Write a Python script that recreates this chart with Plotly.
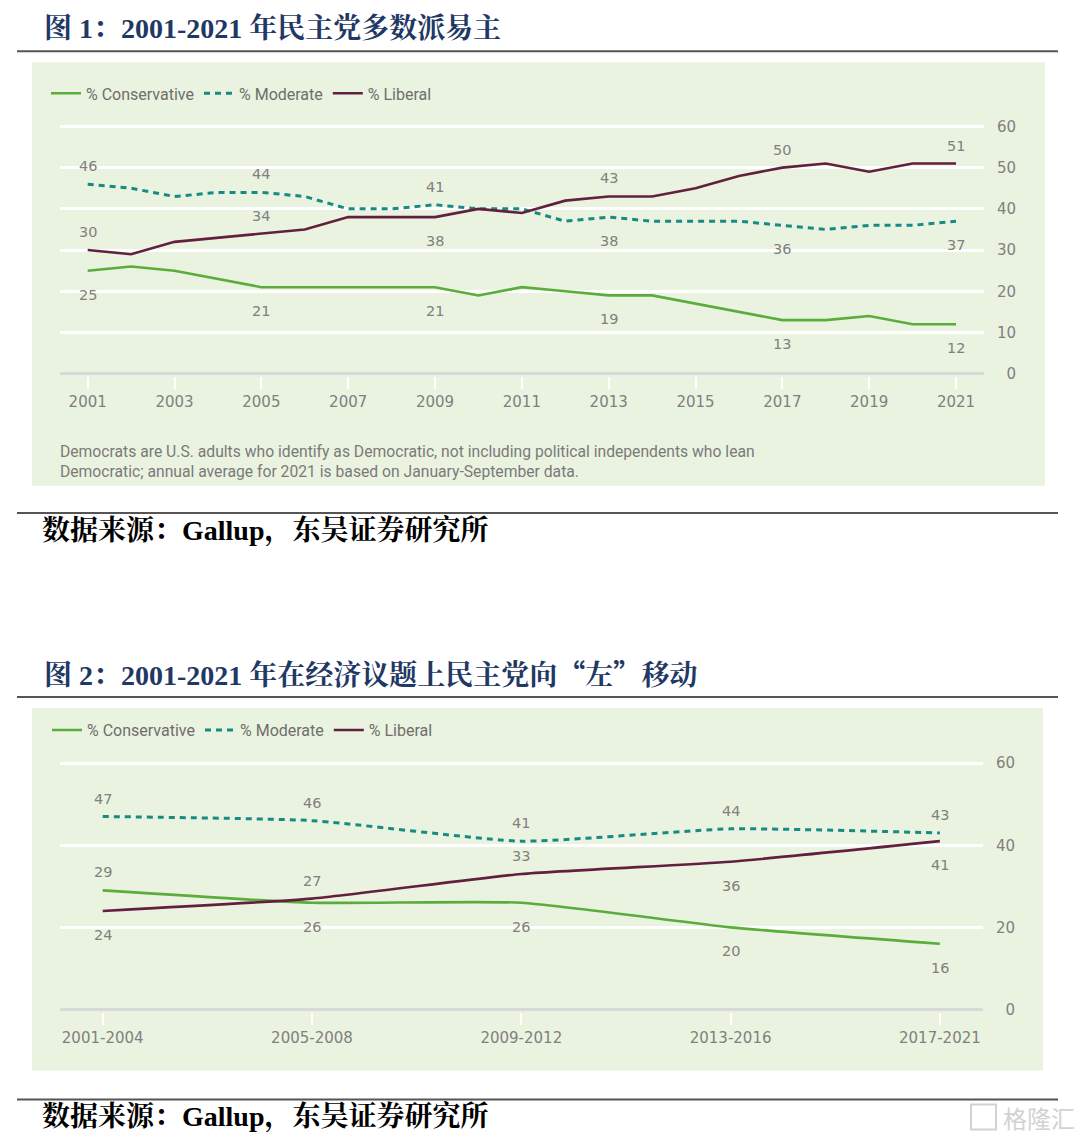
import plotly.graph_objects as go

# ---------------- data ----------------
years = list(range(2001, 2022))
cons1 = [25, 26, 25, 23, 21, 21, 21, 21, 21, 19, 21, 20, 19, 19, 17, 15, 13, 13, 14, 12, 12]
mod1 = [46, 45, 43, 44, 44, 43, 40, 40, 41, 40, 40, 37, 38, 37, 37, 37, 36, 35, 36, 36, 37]
lib1 = [30, 29, 32, 33, 34, 35, 38, 38, 38, 40, 39, 42, 43, 43, 45, 48, 50, 51, 49, 51, 51]
label_years1 = [2001, 2005, 2009, 2013, 2017, 2021]
xticks1 = [2001, 2003, 2005, 2007, 2009, 2011, 2013, 2015, 2017, 2019, 2021]
yticks1 = [0, 10, 20, 30, 40, 50, 60]

periods = ["2001-2004", "2005-2008", "2009-2012", "2013-2016", "2017-2021"]
cons2 = [29, 26, 26, 20, 16]
mod2 = [47, 46, 41, 44, 43]
lib2 = [24, 27, 33, 36, 41]
yticks2 = [0, 20, 40, 60]

series_names = ["% Conservative", "% Moderate", "% Liberal"]

CJK_SPAN = '<span style="font-family:Noto Sans CJK SC">'
title1 = "<b>图 1：2001-2021 年民主党多数派易主</b>"
title2 = ("<b>图 2：2001-2021 年在经济议题上民主党向" + CJK_SPAN + "“</span>左"
          + CJK_SPAN + "”</span>移动</b>")
source_text = "<b>数据来源：Gallup，东吴证券研究所</b>"
note_text = ("Democrats are U.S. adults who identify as Democratic, not including political independents who lean<br>"
             "Democratic; annual average for 2021 is based on January-September data.")

# ---------------- style ----------------
W, H = 1080, 1142
# observed page mapping of this viewer: shown_y = Y0 + SY * figure_y
Y0, SY = 6.7, 0.9866
GREEN = "#5aad3c"
TEAL = "#178a84"
MAROON = "#62203f"
BG = "#eaf3df"
GRAY = "#808080"
NAVY = "#1f3864"
SERIF = "Liberation Serif, Noto Serif CJK SC, Noto Sans CJK SC"
SANS = "Roboto, Inter, Noto Sans"
NUM = "DejaVu Sans, Roboto"

def px(x):
    return x / W

def fy(y):
    return (y - Y0) / SY

def py(y):
    return 1 - fy(y) / H

line_styles = [
    dict(color=GREEN, width=2.6),
    dict(color=TEAL, width=3, dash="6px,5px"),
    dict(color=MAROON, width=2.6),
]

fig = go.Figure()

# chart 1 traces
for name, vals, ls in zip(series_names, [cons1, mod1, lib1], line_styles):
    fig.add_trace(go.Scatter(x=years, y=vals, mode="lines", name=name, line=ls,
                             xaxis="x", yaxis="y", legend="legend"))
# chart 2 traces
for name, vals, ls in zip(series_names, [cons2, mod2, lib2], line_styles):
    fig.add_trace(go.Scatter(x=periods, y=vals, mode="lines", name=name,
                             line=dict(**ls, shape="spline", smoothing=0.5),
                             xaxis="x2", yaxis="y2", legend="legend2"))

annotations = []
UP, DOWN = 18, -24
# label sides per series (style, not data)
sides1 = [
    [DOWN] * 6,
    [UP, UP, UP, DOWN, DOWN, DOWN],
    [UP, UP, DOWN, UP, UP, UP],
]
for vals, sd in zip([cons1, mod1, lib1], sides1):
    for yr, s in zip(label_years1, sd):
        v = vals[years.index(yr)]
        annotations.append(dict(x=yr, y=v, xref="x", yref="y", text=str(v), showarrow=False,
                                yshift=s, font=dict(family=NUM, size=14.5, color=GRAY)))
sides2 = [
    [UP, DOWN, DOWN, DOWN, DOWN],
    [UP] * 5,
    [DOWN, UP, UP, DOWN, DOWN],
]
for vals, sd in zip([cons2, mod2, lib2], sides2):
    for p, v, s in zip(periods, vals, sd):
        annotations.append(dict(x=p, y=v, xref="x2", yref="y2", text=str(v), showarrow=False,
                                yshift=s, font=dict(family=NUM, size=14.5, color=GRAY)))

# text blocks
annotations += [
    dict(x=px(42), y=py(28), xref="paper", yref="paper", text=title1, showarrow=False,
         xanchor="left", yanchor="middle", font=dict(family=SERIF, size=28, color=NAVY)),
    dict(x=px(42), y=py(672), xref="paper", yref="paper", text=title2, showarrow=False,
         xanchor="left", yanchor="middle", font=dict(family=SERIF, size=28, color=NAVY)),
    dict(x=px(40), y=py(530), xref="paper", yref="paper", text=source_text, showarrow=False,
         xanchor="left", yanchor="middle", font=dict(family=SERIF, size=28, color="#000000")),
    dict(x=px(40), y=py(1115), xref="paper", yref="paper", text=source_text, showarrow=False,
         xanchor="left", yanchor="middle", font=dict(family=SERIF, size=28, color="#000000")),
    dict(x=px(58), y=py(461), xref="paper", yref="paper", text=note_text, showarrow=False,
         xanchor="left", yanchor="middle", align="left",
         font=dict(family=SANS, size=15.7, color="#7a7a7a")),
    dict(x=px(1077), y=py(1116), xref="paper", yref="paper", text="格隆汇", showarrow=False,
         xanchor="right", yanchor="middle", font=dict(family="Noto Sans CJK SC", size=24, color="#d2d2d2")),
]

shapes = [
    dict(type="rect", xref="paper", yref="paper", x0=px(32), x1=px(1045), y0=py(485), y1=py(62),
         fillcolor=BG, line=dict(width=0), layer="below"),
    dict(type="rect", xref="paper", yref="paper", x0=px(32), x1=px(1043), y0=py(1069), y1=py(707),
         fillcolor=BG, line=dict(width=0), layer="below"),
    dict(type="rect", xref="paper", yref="paper", x0=px(971), x1=px(996), y0=py(1128), y1=py(1103),
         fillcolor="rgba(0,0,0,0)", line=dict(width=2, color="#d2d2d2"), layer="above"),
]
for yline in [51, 512, 696, 1098]:
    shapes.append(dict(type="line", xref="paper", yref="paper", x0=px(17), x1=px(1058),
                       y0=py(yline), y1=py(yline), line=dict(color="#555555", width=2)))

tickfont = dict(family=NUM, size=15, color=GRAY)
yfont = dict(family=NUM, size=15, color=GRAY)

def ylabels(vals):
    return [("\u2007" + str(v)) if v < 10 else str(v) for v in vals]

legend_common = dict(orientation="h", xanchor="left", yanchor="middle",
                     bgcolor="rgba(0,0,0,0)", font=dict(family=SANS, size=16, color="#6e6e6e"),
                     itemwidth=30, itemclick=False, itemdoubleclick=False)

# chart 1 y: value 0 at page y 373, 60 at 126; chart 2: 0 at 1008, 60 at 762
k1 = (373 - 126) / 60.0
k2 = (1008 - 762) / 60.0

fig.update_layout(
    width=W, height=H,
    margin=dict(l=0, r=0, t=0, b=0),
    paper_bgcolor="white", plot_bgcolor="rgba(0,0,0,0)",
    showlegend=True,
    legend=dict(x=px(46), y=py(93), **legend_common),
    legend2=dict(x=px(47), y=py(729), **legend_common),
    xaxis=dict(domain=[px(60), px(984)], range=[2000.362, 2021.645], anchor="y",
               tickvals=xticks1, ticktext=[str(t) for t in xticks1],
               ticks="outside", ticklen=12, tickwidth=2, tickcolor="white",
               showgrid=False, zeroline=False, showline=False, tickfont=tickfont),
    yaxis=dict(domain=[py(373 + 0.5 * k1), py(126 - 0.5 * k1)], range=[-0.5, 60.5], anchor="x", side="right",
               tickvals=yticks1, ticktext=ylabels(yticks1), ticks="",
               showgrid=True, gridcolor="white", gridwidth=2.5,
               zeroline=True, zerolinecolor="#d9d9d9", zerolinewidth=3,
               showline=False, tickfont=yfont, ticklabelstandoff=12),
    xaxis2=dict(domain=[px(60), px(983)], range=[-0.204, 4.206], anchor="y2", type="category",
                ticks="outside", ticklen=12, tickwidth=2, tickcolor="white",
                showgrid=False, zeroline=False, showline=False, tickfont=tickfont),
    yaxis2=dict(domain=[py(1008 + 0.5 * k2), py(762 - 0.5 * k2)], range=[-0.5, 60.5], anchor="x2", side="right",
                tickvals=yticks2, ticktext=ylabels(yticks2), ticks="",
                showgrid=True, gridcolor="white", gridwidth=2.5,
                zeroline=True, zerolinecolor="#d9d9d9", zerolinewidth=3,
                showline=False, tickfont=yfont, ticklabelstandoff=12),
    annotations=annotations,
    shapes=shapes,
)

fig.write_html(
    "out.html",
    config={"displayModeBar": False},
    post_script=("document.documentElement.style.margin='0';"
                 "document.documentElement.style.padding='0';"
                 "document.body.style.margin='0';"
                 "document.body.style.padding='0';"
                 "document.body.style.overflow='hidden';"),
)
